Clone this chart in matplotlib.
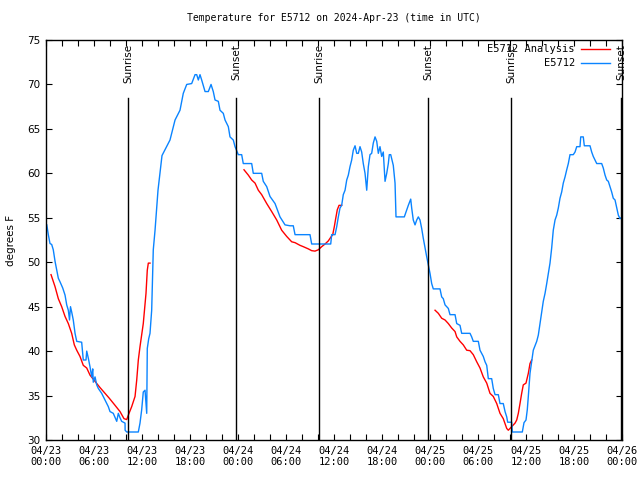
import numpy as np
import matplotlib
matplotlib.use("Agg")
import matplotlib.pyplot as plt
from matplotlib.ticker import MultipleLocator, FixedLocator

# ---- data (hours since 2024-04-23 00:00 UTC, degrees F) ----
obs_hours = [0.1, 0.29, 0.5, 0.71, 0.91, 1.13, 1.34, 1.54, 1.75, 2.09, 2.38, 2.59, 2.79, 2.94, 3.06,
             3.21, 3.41, 3.63, 3.84, 4.46, 4.66, 5.0, 5.09, 5.29, 5.5, 5.71, 5.84, 5.91, 6.13, 6.34,
             6.54, 6.96, 7.38, 7.79, 8.0, 8.41, 8.84, 9.04, 9.25, 9.46, 9.88, 9.89, 10.09, 11.54, 11.75,
             11.96, 12.16, 12.38, 12.59, 12.66, 12.84, 13.0, 13.21, 13.41, 13.63, 14.0, 14.5, 15.5, 16.13,
             16.75, 17.16, 17.59, 18.21, 18.63, 18.84, 19.04, 19.25, 19.46, 19.88, 20.29, 20.63, 20.91,
             21.13, 21.54, 21.75, 22.16, 22.38, 22.79, 23.0, 23.41, 23.63, 24.04, 24.46, 24.66, 25.71,
             25.91, 26.96, 27.16, 27.59, 28.0, 28.63, 28.84, 29.25, 29.88, 30.5, 30.91, 31.13, 33.0,
             33.21, 35.59, 35.71, 36.13, 36.34, 36.54, 36.75, 36.96, 37.16, 37.38, 37.59, 37.79, 38.0,
             38.21, 38.41, 38.63, 38.84, 39.04, 39.25, 39.46, 39.66, 39.88, 40.09, 40.29, 40.5, 40.71,
             40.91, 41.13, 41.34, 41.54, 41.75, 41.96, 42.16, 42.38, 42.59, 42.79, 42.91, 43.09, 43.41,
             43.63, 43.75, 44.79, 45.09, 45.29, 45.59, 45.71, 45.91, 46.13, 46.34, 46.54, 46.75, 46.96,
             47.16, 47.38, 47.59, 47.79, 48.0, 48.21, 48.41, 49.25, 49.46, 49.66, 49.88, 50.29, 50.5,
             51.13, 51.34, 51.75, 51.96, 53.0, 53.21, 53.41, 54.04, 54.25, 54.46, 54.66, 54.88, 55.09,
             55.29, 55.71, 55.91, 56.13, 56.54, 56.75, 57.16, 57.38, 57.59, 57.71, 58.21, 58.29, 59.54,
             59.75, 60.0, 60.16, 60.29, 60.5, 60.71, 60.91, 61.34, 61.54, 61.75, 61.96, 62.16, 62.38,
             62.59, 62.79, 63.0, 63.21, 63.41, 63.63, 63.84, 64.04, 64.25, 64.46, 64.66, 64.88, 65.09,
             65.29, 65.5, 65.91, 66.13, 66.34, 66.75, 66.84, 67.16, 67.29, 68.0, 68.21, 68.41, 68.63,
             68.84, 69.46, 69.66, 69.88, 70.09, 70.29, 70.5, 70.71, 70.91, 71.13, 71.34, 71.54, 71.75,
             71.88]
obs_temps = [54.2, 53.1, 52.1, 52.0, 51.4, 50.1, 49.1, 48.2, 47.8, 47.1, 46.3, 45.2, 44.6, 43.5, 45.0,
             44.4, 43.5, 42.0, 41.1, 41.0, 39.0, 39.0, 40.0, 39.2, 38.25, 37.1, 38.0, 36.5, 37.1, 36.2,
             35.8, 35.25, 34.5, 33.75, 33.2, 33.0, 32.1, 33.0, 32.5, 32.1, 31.9, 31.1, 30.9, 30.9, 31.9,
             33.4, 35.4, 35.6, 33.0, 40.3, 41.4, 42.0, 44.6, 51.4, 53.6, 58.1, 62.0, 63.75, 66.0,
             67.1, 69.0, 70.0, 70.1, 71.1, 71.1, 70.5, 71.1, 70.5, 69.2, 69.2, 70.0, 69.2,
             68.25, 68.1, 67.1, 66.75, 66.0, 65.25, 64.1, 63.75, 63.0, 62.1, 62.1, 61.1, 61.1,
             60.0, 60.0, 59.1, 58.5, 57.4, 56.6, 56.1, 55.1, 54.2, 54.1, 54.1, 53.1, 53.1,
             52.05, 52.05, 53.1, 53.1, 54.0, 55.1, 56.1, 56.4, 57.6, 58.1, 59.25, 59.8, 60.75,
             61.5, 62.6, 63.1, 62.25, 62.25, 63.0, 62.4, 61.1, 60.0, 58.1, 60.75, 62.1, 62.25,
             63.4, 64.1, 63.6, 62.25, 63.0, 61.9, 62.4, 59.1, 60.0, 61.1, 62.1, 62.1, 60.9,
             58.9, 55.1, 55.1, 55.9, 56.4, 57.1, 56.1, 54.75, 54.2, 54.75, 55.1, 54.75, 53.8,
             52.7, 51.6, 50.6, 49.7, 48.75, 47.6, 47.0, 47.0, 46.1, 45.9, 45.2, 44.8, 44.1,
             44.1, 43.1, 42.9, 42.0, 42.0, 41.6, 41.1, 41.1, 40.1, 39.75, 39.4, 38.8, 38.4,
             36.9, 36.9, 35.8, 35.1, 35.1, 34.1, 34.1, 33.2, 32.6, 32.0, 32.0, 30.9, 30.9,
             31.95, 32.25, 33.4, 34.9, 37.5, 38.8, 40.1, 41.1, 41.8, 43.1, 44.4, 45.6, 46.5,
             47.6, 48.75, 49.9, 51.6, 53.6, 54.75, 55.3, 56.1, 57.2, 57.9, 58.9, 59.6, 60.4,
             61.1, 62.1, 62.1, 62.4, 63.0, 63.0, 64.1, 64.1, 63.1, 63.1, 62.4, 61.9, 61.5,
             61.1, 61.1, 60.6, 59.8, 59.25, 59.1, 58.5, 57.9, 57.2, 57.0, 56.1, 55.3, 54.9,
             55.0]

ana1_hours = [0.63, 1.13, 1.54, 1.96, 2.38, 2.79, 3.21, 3.54, 3.84, 4.25, 4.66, 5.09, 5.5, 6.75, 7.91,
              8.63, 9.25, 9.75, 10.09, 10.29, 10.71, 11.13, 11.34, 11.54, 11.75, 12.16, 12.5, 12.66,
              12.79, 13.0]
ana1_temps = [48.6, 47.25, 45.9, 45.0, 43.9, 43.1, 42.0, 40.7, 40.1, 39.4, 38.4, 38.1, 37.3, 35.9, 34.7,
              33.9, 33.2, 32.4, 32.3, 32.8, 33.75, 34.9, 36.75, 39.0, 40.5, 43.1, 46.5, 49.1,
              49.9, 49.9]
ana2_hours = [24.75, 25.29, 25.71, 26.13, 26.54, 26.96, 27.59, 28.21, 28.84, 29.46, 30.09, 30.71, 31.13,
              31.75, 32.16, 32.79, 33.21, 33.63, 34.04, 34.46, 34.88, 35.29, 35.59, 35.84, 36.04, 36.21,
              36.41, 36.63, 36.96]
ana2_temps = [60.4, 59.8, 59.25, 58.9, 58.1, 57.6, 56.6, 55.7, 54.75, 53.6, 52.9, 52.3, 52.2,
              51.9, 51.75, 51.5, 51.3, 51.25, 51.4, 51.75, 52.05, 52.4, 52.8, 53.1, 54.0, 54.9,
              55.9, 56.4, 56.4]
ana3_hours = [48.63, 49.04, 49.46, 49.88, 50.29, 50.71, 51.13, 51.34, 51.75, 52.16, 52.59, 53.0, 53.41,
              53.84, 54.25, 54.66, 55.09, 55.5, 55.91, 56.34, 56.75, 57.16, 57.59, 57.79, 58.21, 58.63,
              58.84, 59.04, 59.25, 59.46, 59.66, 60.0, 60.29, 60.5, 60.71]
ana3_temps = [44.6, 44.25, 43.7, 43.5, 43.1, 42.6, 42.2, 41.6, 41.1, 40.7, 40.1, 40.05, 39.6,
              38.8, 38.1, 37.1, 36.4, 35.25, 34.9, 34.1, 33.0, 32.4, 31.3, 31.1, 31.5, 31.9,
              32.25, 33.0, 34.1, 35.25, 36.2, 36.4, 37.5, 38.6, 39.0]

sun_hours = [10.25, 23.75, 34.13, 47.75, 58.13, 71.88]
sun_labels = ["Sunrise", "Sunset", "Sunrise", "Sunset", "Sunrise", "Sunset"]

tick_hours = [0, 6, 12, 18, 24, 30, 36, 42, 48, 54, 60, 66, 72]
tick_labels = ["04/23\n00:00", "04/23\n06:00", "04/23\n12:00", "04/23\n18:00",
               "04/24\n00:00", "04/24\n06:00", "04/24\n12:00", "04/24\n18:00",
               "04/25\n00:00", "04/25\n06:00", "04/25\n12:00", "04/25\n18:00",
               "04/26\n00:00"]

RED = "#ff0000"
BLUE = "#0a84ff"
MONO = "DejaVu Sans Mono"

fig = plt.figure(figsize=(6.4, 4.8), dpi=100)
ax = fig.add_axes([46/640, 1-440/480, 576/640, 400/480])

for h, t in [(ana1_hours, ana1_temps), (ana2_hours, ana2_temps), (ana3_hours, ana3_temps)]:
    ax.plot(h, t, color=RED, lw=1.0)
ax.plot(obs_hours, obs_temps, color=BLUE, lw=1.0)

for h, lab in zip(sun_hours, sun_labels):
    ax.axvline(h, ymin=0, ymax=0.855, color="black", lw=1.0)
    ax.text(h, 0.99, lab, rotation=90, ha="center", va="top",
            transform=ax.get_xaxis_transform(), fontsize=7.5, family="DejaVu Sans")

ax.set_xlim(0, 72)
ax.set_ylim(30, 75)
ax.xaxis.set_major_locator(FixedLocator(tick_hours))
ax.set_xticklabels(tick_labels, family=MONO, fontsize=7.5, linespacing=1.2)
ax.xaxis.set_minor_locator(MultipleLocator(2))
ax.yaxis.set_major_locator(MultipleLocator(5))
for lab in ax.get_yticklabels():
    lab.set_fontsize(7.5)
    lab.set_family("DejaVu Sans")
ax.tick_params(which="both", direction="in", top=True, right=True, length=4, width=0.8)
ax.tick_params(axis="x", which="major", pad=4)
ax.tick_params(axis="y", which="major", pad=4)
for s in ax.spines.values():
    s.set_linewidth(1.0)

ax.set_ylabel("degrees F", fontsize=7.5, family="DejaVu Sans", labelpad=8)
ax.set_title("Temperature for E5712 on 2024-Apr-23 (time in UTC)", family=MONO, fontsize=7, pad=14)

# legend (gnuplot style, right aligned text)
ax.text(0.918, 0.9775, "E5712 Analysis", transform=ax.transAxes, ha="right", va="center",
        family=MONO, fontsize=7.5)
ax.plot([0.929, 0.979], [0.9775, 0.9775], transform=ax.transAxes, color=RED, lw=1.0)
ax.text(0.918, 0.9425, "E5712", transform=ax.transAxes, ha="right", va="center",
        family=MONO, fontsize=7.5)
ax.plot([0.929, 0.979], [0.9425, 0.9425], transform=ax.transAxes, color=BLUE, lw=1.0)

fig.savefig("out.png", dpi=100)
